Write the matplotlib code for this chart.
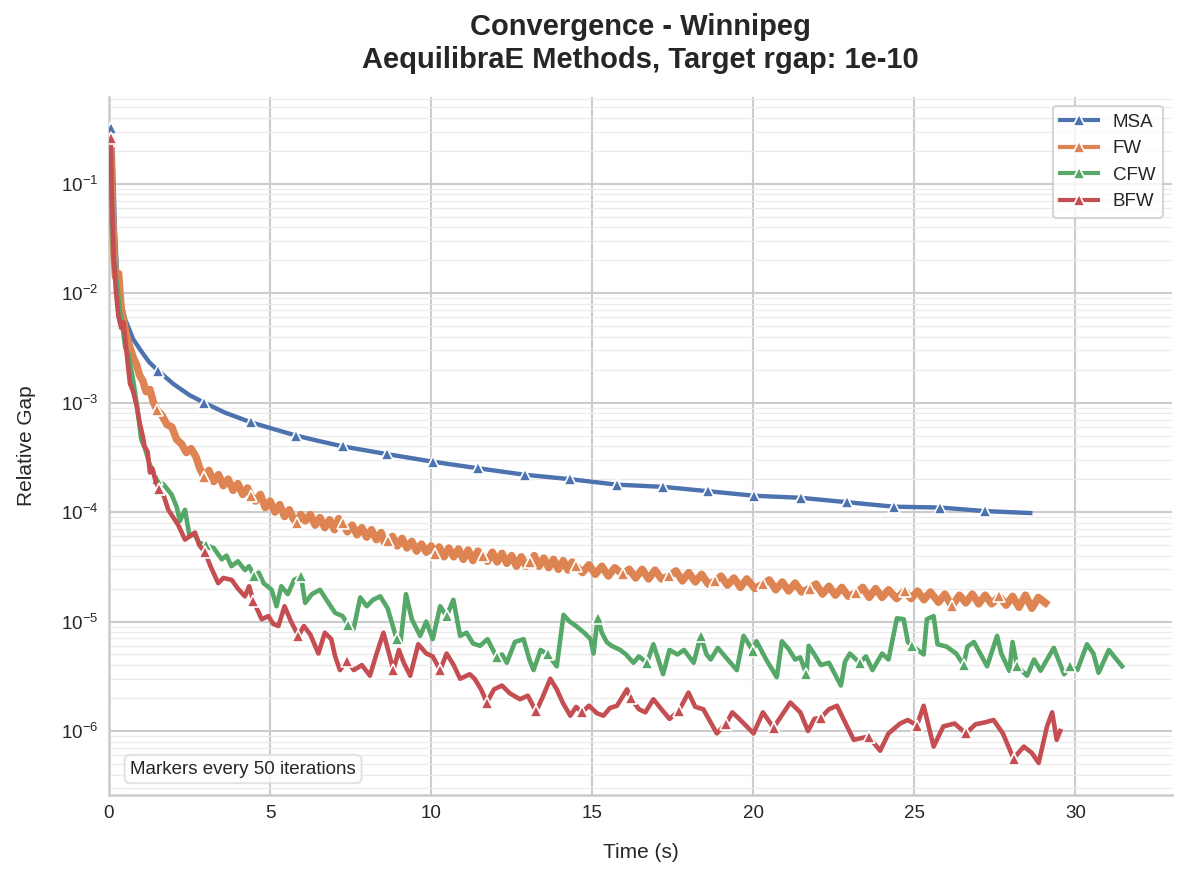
import matplotlib
matplotlib.use("Agg")
import matplotlib.pyplot as plt
from matplotlib.lines import Line2D
from matplotlib.ticker import NullFormatter
import numpy as np

# ---------------- data ----------------
msa_t = [0.05, 0.12, 0.18, 0.25, 0.34, 0.5, 0.75, 1.0, 1.25, 1.53, 2.0, 2.5, 2.95, 3.6,
         4.41, 5.1, 5.81, 6.5, 7.26, 8.62, 10.07, 11.47, 12.92, 14.30, 15.77, 17.20,
         18.61, 20.03, 21.48, 22.92, 24.36, 25.81, 27.2, 28.6]
msa_gap = [0.32, 0.18, 0.040, 1.58e-2, 9.3e-3, 5.8e-3, 3.8e-3, 2.95e-3, 2.34e-3, 1.95e-3,
           1.48e-3, 1.17e-3, 1.0e-3, 8.1e-4, 6.6e-4, 5.75e-4, 5.0e-4, 4.47e-4, 3.98e-4,
           3.39e-4, 2.88e-4, 2.51e-4, 2.19e-4, 2.0e-4, 1.78e-4, 1.70e-4, 1.55e-4, 1.41e-4,
           1.35e-4, 1.23e-4, 1.12e-4, 1.10e-4, 1.02e-4, 9.8e-5]
msa_mk_t = [0.05, 1.53, 2.95, 4.41, 5.81, 7.26, 8.62, 10.07, 11.47, 12.92, 14.30, 15.77,
            17.20, 18.61, 20.03, 21.48, 22.92, 24.36, 25.81, 27.2]
msa_mk_gap = [0.32, 1.95e-3, 1.0e-3, 6.6e-4, 5.0e-4, 3.98e-4, 3.39e-4, 2.88e-4, 2.51e-4,
              2.19e-4, 2.0e-4, 1.78e-4, 1.70e-4, 1.55e-4, 1.41e-4, 1.35e-4, 1.23e-4,
              1.12e-4, 1.10e-4, 1.02e-4]

fw_t = [0.05, 0.10, 0.15, 0.20, 0.30, 0.38, 0.45, 0.55, 0.65, 0.75, 0.85, 0.95, 1.05, 1.15,
        1.27, 1.38, 1.50, 1.65, 1.80, 1.95, 2.10, 2.25, 2.40, 2.55, 2.70, 2.82, 2.95, 3.10,
        3.25, 3.40, 3.55, 3.70, 3.85, 4.00, 4.15, 4.30, 4.41, 4.55, 4.70, 4.85, 5.00, 5.15,
        5.30, 5.45, 5.60, 5.72, 5.83, 5.95, 6.10, 6.25, 6.40, 6.55, 6.70, 6.85, 7.00, 7.13,
        7.26, 7.40, 7.55, 7.70, 7.85, 8.00, 8.15, 8.30, 8.45, 8.55, 8.67, 8.80, 8.95, 9.10,
        9.25, 9.40, 9.55, 9.70, 9.85, 10.00, 10.12, 10.25, 10.40, 10.55, 10.70, 10.85,
        11.00, 11.15, 11.30, 11.45, 11.60, 11.75, 11.90, 12.05, 12.20, 12.35, 12.50, 12.65,
        12.80, 12.95, 13.07, 13.20, 13.35, 13.50, 13.65, 13.80, 13.95, 14.10, 14.25, 14.38,
        14.50, 14.70, 14.90, 15.10, 15.30, 15.50, 15.70, 15.95, 16.15, 16.35, 16.55, 16.75,
        16.95, 17.15, 17.40, 17.60, 17.80, 18.00, 18.20, 18.40, 18.60, 18.82, 19.00, 19.20,
        19.40, 19.60, 19.80, 20.05, 20.30, 20.50, 20.70, 20.90, 21.10, 21.30, 21.50, 21.75,
        21.95, 22.15, 22.35, 22.55, 22.75, 22.95, 23.20, 23.40, 23.60, 23.80, 24.00, 24.20,
        24.45, 24.70, 24.90, 25.10, 25.30, 25.50, 25.75, 25.95, 26.17, 26.40, 26.60, 26.80,
        27.00, 27.20, 27.40, 27.64, 27.85, 28.05, 28.25, 28.45, 28.65, 28.85, 29.07]
fw_gap = [0.25, 6.3e-2, 2.5e-2, 1.41e-2, 1.51e-2, 7.1e-3, 5.6e-3, 4.0e-3, 3.2e-3, 2.6e-3,
          2.24e-3, 1.78e-3, 1.58e-3, 1.26e-3, 1.32e-3, 1.0e-3, 8.5e-4, 7.6e-4, 6.3e-4,
          6.0e-4, 4.6e-4, 4.2e-4, 3.5e-4, 3.8e-4, 3.2e-4, 2.5e-4, 2.1e-4, 2.4e-4, 1.9e-4,
          2.2e-4, 1.74e-4, 2.0e-4, 1.58e-4, 1.82e-4, 1.45e-4, 1.66e-4, 1.41e-4, 1.26e-4,
          1.45e-4, 1.10e-4, 1.26e-4, 1.0e-4, 1.17e-4, 9.1e-5, 1.05e-4, 8.7e-5, 7.9e-5,
          9.5e-5, 8.3e-5, 9.5e-5, 7.6e-5, 8.9e-5, 7.2e-5, 8.5e-5, 6.9e-5, 8.7e-5, 7.9e-5,
          6.6e-5, 7.6e-5, 6.2e-5, 7.2e-5, 5.9e-5, 6.9e-5, 5.6e-5, 6.5e-5, 5.25e-5, 5.4e-5,
          6.0e-5, 4.9e-5, 5.75e-5, 4.7e-5, 5.4e-5, 4.4e-5, 5.1e-5, 4.3e-5, 4.9e-5, 4.1e-5,
          4.8e-5, 3.9e-5, 4.7e-5, 3.9e-5, 4.6e-5, 3.7e-5, 4.5e-5, 3.6e-5, 4.4e-5, 4.0e-5,
          3.55e-5, 4.3e-5, 3.5e-5, 4.2e-5, 3.4e-5, 4.0e-5, 3.2e-5, 3.9e-5, 3.2e-5, 3.5e-5,
          4.0e-5, 3.2e-5, 3.8e-5, 3.1e-5, 3.7e-5, 3.0e-5, 3.6e-5, 2.95e-5, 3.5e-5, 3.2e-5,
          2.8e-5, 3.3e-5, 2.7e-5, 3.2e-5, 2.6e-5, 3.1e-5, 2.7e-5, 3.0e-5, 2.5e-5, 3.0e-5,
          2.45e-5, 2.95e-5, 2.45e-5, 2.6e-5, 2.9e-5, 2.35e-5, 2.8e-5, 2.3e-5, 2.7e-5, 2.2e-5,
          2.35e-5, 2.6e-5, 2.15e-5, 2.5e-5, 2.05e-5, 2.45e-5, 2.0e-5, 2.2e-5, 2.4e-5,
          1.95e-5, 2.3e-5, 1.9e-5, 2.25e-5, 1.86e-5, 2.0e-5, 2.2e-5, 1.78e-5, 2.1e-5,
          1.74e-5, 2.05e-5, 1.7e-5, 1.82e-5, 2.05e-5, 1.66e-5, 2.0e-5, 1.66e-5, 1.95e-5,
          1.62e-5, 1.9e-5, 1.62e-5, 1.9e-5, 1.58e-5, 1.86e-5, 1.5e-5, 1.78e-5, 1.38e-5,
          1.74e-5, 1.48e-5, 1.78e-5, 1.45e-5, 1.74e-5, 1.45e-5, 1.7e-5, 1.41e-5, 1.7e-5,
          1.35e-5, 1.74e-5, 1.32e-5, 1.66e-5, 1.48e-5]
fw_mk_t = [0.05, 1.50, 2.95, 4.41, 5.83, 7.26, 8.67, 10.12, 11.60, 13.07, 14.50, 15.95,
           17.40, 18.82, 20.30, 21.75, 23.20, 24.70, 26.17, 27.64]
fw_mk_gap = [0.25, 8.5e-4, 2.1e-4, 1.41e-4, 7.9e-5, 7.9e-5, 5.4e-5, 4.1e-5, 4.0e-5, 3.5e-5,
             3.2e-5, 2.7e-5, 2.6e-5, 2.35e-5, 2.2e-5, 2.0e-5, 1.82e-5, 1.9e-5, 1.38e-5,
             1.7e-5]

cfw_t = [0.05, 0.10, 0.13, 0.20, 0.28, 0.35, 0.42, 0.50, 0.60, 0.75, 0.88, 1.00, 1.12,
         1.25, 1.43, 1.50, 1.55, 1.70, 1.94, 2.10, 2.20, 2.36, 2.50, 2.65, 2.80, 3.00, 3.08,
         3.25, 3.50, 3.65, 3.80, 4.00, 4.22, 4.35, 4.51, 4.65, 4.80, 5.05, 5.20, 5.35, 5.55,
         5.75, 5.96, 6.09, 6.30, 6.55, 6.75, 7.02, 7.25, 7.43, 7.59, 7.80, 8.00, 8.20, 8.42,
         8.65, 8.93, 9.05, 9.22, 9.40, 9.66, 9.85, 10.05, 10.28, 10.48, 10.69, 10.90, 11.10,
         11.30, 11.52, 11.75, 12.04, 12.20, 12.35, 12.60, 12.87, 13.05, 13.18, 13.40, 13.62,
         13.90, 14.11, 14.30, 14.50, 14.75, 14.95, 15.04, 15.17, 15.30, 15.45, 15.60, 15.87,
         16.05, 16.28, 16.45, 16.70, 16.90, 17.20, 17.40, 17.65, 17.85, 18.15, 18.37, 18.55,
         18.68, 18.90, 19.15, 19.49, 19.70, 19.99, 20.10, 20.40, 20.73, 20.89, 21.10, 21.30,
         21.46, 21.65, 21.72, 21.90, 22.10, 22.35, 22.72, 22.85, 23.00, 23.30, 23.50, 23.70,
         24.00, 24.20, 24.46, 24.67, 24.80, 24.93, 25.29, 25.39, 25.60, 25.72, 26.00, 26.30,
         26.53, 26.65, 26.85, 27.26, 27.57, 27.70, 27.95, 28.05, 28.19, 28.50, 28.72, 28.92,
         29.33, 29.65, 29.83, 30.06, 30.36, 30.56, 30.72, 31.04, 31.20, 31.45]
cfw_gap = [0.25, 5.0e-2, 2.2e-2, 1.6e-2, 1.0e-2, 6.3e-3, 5.0e-3, 3.2e-3, 2.8e-3, 1.6e-3,
           8.9e-4, 4.6e-4, 3.8e-4, 2.8e-4, 2.1e-4, 2.0e-4, 1.9e-4, 1.78e-4, 1.45e-4, 1.12e-4,
           8.3e-5, 1.05e-4, 6.0e-5, 6.3e-5, 5.25e-5, 5.0e-5, 4.9e-5, 4.7e-5, 3.7e-5, 4.0e-5,
           3.2e-5, 3.55e-5, 2.95e-5, 3.2e-5, 2.6e-5, 2.8e-5, 2.24e-5, 1.95e-5, 1.38e-5, 2.1e-5,
           1.78e-5, 2.4e-5, 2.6e-5, 1.48e-5, 1.78e-5, 1.95e-5, 1.58e-5, 1.2e-5, 1.12e-5,
           9.3e-6, 8.5e-6, 1.66e-5, 1.38e-5, 1.58e-5, 1.7e-5, 1.32e-5, 6.9e-6, 6.5e-6, 1.78e-5,
           1.05e-5, 7.4e-6, 1.0e-5, 6.9e-6, 1.38e-5, 1.12e-5, 1.58e-5, 7.4e-6, 7.9e-6, 6.3e-6,
           6.0e-6, 6.9e-6, 4.7e-6, 5.0e-6, 4.2e-6, 6.5e-6, 6.9e-6, 4.5e-6, 3.6e-6, 5.5e-6,
           5.0e-6, 3.9e-6, 1.15e-5, 1.0e-5, 9.1e-6, 7.9e-6, 6.9e-6, 5.1e-6, 1.07e-5, 7.9e-6,
           6.5e-6, 6.0e-6, 5.5e-6, 5.0e-6, 4.2e-6, 4.8e-6, 4.2e-6, 6.2e-6, 3.3e-6, 5.5e-6,
           5.0e-6, 5.5e-6, 4.2e-6, 7.4e-6, 5.0e-6, 4.5e-6, 5.75e-6, 4.7e-6, 3.6e-6, 7.4e-6,
           5.4e-6, 6.6e-6, 4.5e-6, 3.1e-6, 6.6e-6, 5.6e-6, 4.5e-6, 4.7e-6, 3.3e-6, 6.0e-6,
           5.0e-6, 4.0e-6, 4.2e-6, 2.6e-6, 4.3e-6, 5.1e-6, 4.2e-6, 4.8e-6, 3.6e-6, 5.1e-6,
           4.5e-6, 1.07e-5, 1.05e-5, 6.5e-6, 6.0e-6, 5.0e-6, 1.05e-5, 1.12e-5, 6.2e-6, 5.9e-6,
           5.1e-6, 4.0e-6, 5.9e-6, 6.5e-6, 3.9e-6, 7.4e-6, 5.1e-6, 3.55e-6, 6.5e-6, 3.9e-6,
           3.2e-6, 4.5e-6, 3.55e-6, 5.75e-6, 3.3e-6, 3.9e-6, 3.6e-6, 6.2e-6, 5.1e-6, 3.4e-6,
           5.5e-6, 4.8e-6, 3.9e-6]
cfw_mk_t = [0.05, 1.50, 3.00, 4.51, 5.96, 7.43, 8.93, 10.48, 12.04, 13.62, 15.17, 16.70,
            18.37, 19.99, 21.65, 23.30, 24.93, 26.53, 28.19, 29.83]
cfw_mk_gap = [0.25, 2.0e-4, 5.0e-5, 2.6e-5, 2.6e-5, 9.3e-6, 6.9e-6, 1.12e-5, 4.7e-6, 5.0e-6,
              1.07e-5, 4.2e-6, 7.4e-6, 5.4e-6, 3.3e-6, 4.2e-6, 6.0e-6, 4.0e-6, 3.9e-6,
              3.9e-6]

bfw_t = [0.05, 0.08, 0.15, 0.22, 0.29, 0.38, 0.45, 0.55, 0.65, 0.75, 0.86, 0.95, 1.07,
         1.10, 1.20, 1.27, 1.35, 1.45, 1.56, 1.70, 1.84, 2.00, 2.15, 2.36, 2.50, 2.67, 2.80,
         2.98, 3.15, 3.39, 3.55, 3.81, 4.00, 4.22, 4.35, 4.48, 4.74, 4.95, 5.10, 5.26, 5.45,
         5.65, 5.88, 6.05, 6.25, 6.50, 6.70, 6.90, 7.02, 7.17, 7.38, 7.60, 7.85, 8.10, 8.30,
         8.52, 8.70, 8.83, 9.00, 9.15, 9.35, 9.60, 9.85, 10.05, 10.28, 10.48, 10.70, 10.90,
         11.20, 11.35, 11.55, 11.73, 11.95, 12.20, 12.45, 12.76, 13.00, 13.26, 13.45, 13.70,
         13.90, 14.10, 14.32, 14.50, 14.68, 14.90, 15.15, 15.35, 15.55, 15.77, 16.08, 16.20,
         16.45, 16.65, 16.90, 17.15, 17.40, 17.68, 17.99, 18.20, 18.45, 18.87, 19.16, 19.35,
         19.60, 20.01, 20.30, 20.63, 20.90, 21.15, 21.46, 21.70, 21.90, 22.10, 22.35, 22.60,
         22.85, 23.12, 23.58, 23.94, 24.20, 24.56, 24.80, 25.08, 25.29, 25.60, 25.90, 26.25,
         26.60, 26.90, 27.20, 27.46, 27.75, 28.08, 28.40, 28.65, 28.86, 29.12, 29.28, 29.42,
         29.53]
bfw_gap = [0.26, 8.9e-2, 2.0e-2, 1.0e-2, 6.2e-3, 4.8e-3, 5.4e-3, 2.8e-3, 1.5e-3, 1.26e-3,
           9.3e-4, 6.6e-4, 4.6e-4, 4.0e-4, 3.55e-4, 2.3e-4, 2.5e-4, 1.9e-4, 1.62e-4, 1.41e-4,
           1.05e-4, 8.9e-5, 7.6e-5, 5.6e-5, 6.0e-5, 6.5e-5, 5.0e-5, 4.3e-5, 3.2e-5, 2.24e-5,
           2.5e-5, 2.4e-5, 2.0e-5, 1.7e-5, 2.1e-5, 1.55e-5, 1.05e-5, 1.12e-5, 9.5e-6, 9.1e-6,
           1.38e-5, 1.0e-5, 7.4e-6, 9.1e-6, 7.6e-6, 5.1e-6, 7.9e-6, 6.9e-6, 4.8e-6, 3.6e-6,
           4.4e-6, 3.6e-6, 4.0e-6, 3.2e-6, 5.0e-6, 7.9e-6, 5.0e-6, 3.6e-6, 5.5e-6, 4.2e-6,
           3.2e-6, 6.2e-6, 5.1e-6, 4.8e-6, 3.6e-6, 5.1e-6, 4.0e-6, 3.0e-6, 3.3e-6, 3.0e-6,
           2.4e-6, 1.82e-6, 2.4e-6, 2.6e-6, 2.2e-6, 1.95e-6, 2.1e-6, 1.51e-6, 2.0e-6, 3.0e-6,
           2.4e-6, 1.78e-6, 1.38e-6, 1.66e-6, 1.48e-6, 1.7e-6, 1.45e-6, 1.38e-6, 1.62e-6,
           1.7e-6, 2.4e-6, 2.0e-6, 1.58e-6, 1.48e-6, 1.95e-6, 1.58e-6, 1.29e-6, 1.51e-6,
           2.24e-6, 1.66e-6, 1.58e-6, 9.5e-7, 1.17e-6, 1.48e-6, 1.26e-6, 9.5e-7, 1.48e-6,
           1.07e-6, 1.41e-6, 1.82e-6, 1.48e-6, 1.0e-6, 1.29e-6, 1.32e-6, 1.58e-6, 1.7e-6,
           1.2e-6, 8.3e-7, 8.9e-7, 6.6e-7, 9.5e-7, 1.17e-6, 1.26e-6, 1.12e-6, 1.7e-6, 7.2e-7,
           1.1e-6, 1.17e-6, 9.5e-7, 1.15e-6, 1.2e-6, 1.26e-6, 9.5e-7, 5.6e-7, 7.2e-7, 6.3e-7,
           5.1e-7, 1.1e-6, 1.48e-6, 8.3e-7, 1.0e-6]
bfw_mk_t = [0.05, 1.56, 2.98, 4.48, 5.88, 7.38, 8.83, 10.28, 11.73, 13.26, 14.68, 16.20,
            17.68, 19.16, 20.63, 22.10, 23.58, 25.08, 26.60, 28.08]
bfw_mk_gap = [0.26, 1.62e-4, 4.3e-5, 1.55e-5, 7.4e-6, 4.4e-6, 3.6e-6, 3.6e-6, 1.82e-6,
              1.51e-6, 1.48e-6, 2.0e-6, 1.51e-6, 1.17e-6, 1.07e-6, 1.32e-6, 8.9e-7, 1.12e-6,
              9.5e-7, 5.6e-7]

methods = ["MSA", "FW", "CFW", "BFW"]
colors = ["#4C72B0", "#DD8452", "#55A868", "#C44E52"]
series = [(msa_t, msa_gap, msa_mk_t, msa_mk_gap),
          (fw_t, fw_gap, fw_mk_t, fw_mk_gap),
          (cfw_t, cfw_gap, cfw_mk_t, cfw_mk_gap),
          (bfw_t, bfw_gap, bfw_mk_t, bfw_mk_gap)]
line_widths = [2.1, 3.6, 2.2, 2.2]

# ---------------- style ----------------
plt.rcParams['font.family'] = ['Liberation Sans', 'DejaVu Sans']
plt.rcParams['axes.unicode_minus'] = True
text_color = '#262626'

fig = plt.figure(figsize=(1186 / 150, 886 / 150), dpi=150)
ax = fig.add_axes([109 / 1186, 1 - 795 / 886, (1172 - 109) / 1186, (795 - 97) / 886])

handles = []
for name, col, lw, (t, g, mt, mg) in zip(methods, colors, line_widths, series):
    ax.plot(t, g, color=col, lw=lw, solid_joinstyle='round', zorder=3)
    ax.plot(mt, mg, linestyle='none', marker='^', markersize=6, color=col,
            markeredgecolor='white', markeredgewidth=0.8, zorder=3)
    handles.append(Line2D([], [], color=col, lw=2.0, marker='^', markersize=6,
                          markeredgecolor='white', markeredgewidth=0.8, label=name))

ax.set_yscale('log')
ax.set_xlim(0, 33.0)
ax.set_ylim(2.6e-7, 0.62)
ax.set_xticks([0, 5, 10, 15, 20, 25, 30])
ax.yaxis.set_minor_formatter(NullFormatter())

ax.set_axisbelow(True)
ax.grid(True, which='major', color='#cccccc', lw=1.0)
ax.grid(True, which='minor', axis='y', color='#ebebeb', lw=0.6)
ax.grid(False, which='minor', axis='x')
for side in ['top', 'right']:
    ax.spines[side].set_visible(False)
for side in ['left', 'bottom']:
    ax.spines[side].set_color('#cccccc')
    ax.spines[side].set_linewidth(1.25)
ax.tick_params(which='both', length=0, labelsize=9, colors=text_color, pad=5)

ax.set_xlabel('Time (s)', fontsize=10, color=text_color, labelpad=10)
ax.set_ylabel('Relative Gap', fontsize=10, color=text_color, labelpad=12)
ax.set_title('Convergence - Winnipeg\nAequilibraE Methods, Target rgap: 1e-10',
             fontsize=14, fontweight='bold', color=text_color, pad=14)

leg = ax.legend(handles=handles, loc='upper right', fontsize=9, frameon=True,
                fancybox=True, edgecolor='#cccccc', framealpha=0.8)
for txt in leg.get_texts():
    txt.set_color(text_color)

ax.text(0.02, 0.025, 'Markers every 50 iterations', transform=ax.transAxes,
        fontsize=9, color=text_color, va='bottom', ha='left',
        bbox=dict(boxstyle='round,pad=0.3', facecolor='white', edgecolor='#dddddd',
                  alpha=0.8))

fig.savefig('out.png', dpi=150)
